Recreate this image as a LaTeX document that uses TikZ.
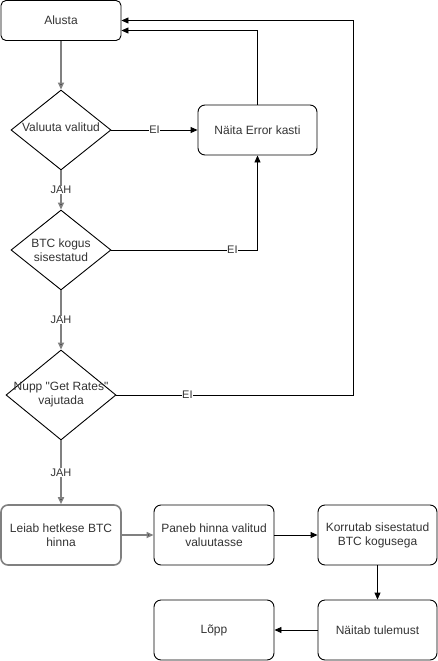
\documentclass[tikz,border=0pt]{standalone}
\usepackage{fontspec}
\setmainfont{Liberation Sans}
\font\qfont="Liberation Sans" at 12pt
\newcommand{\sq}{{\qfont\char34}}
\usetikzlibrary{shapes.geometric,arrows.meta,calc}
\definecolor{txt}{HTML}{333333}
\definecolor{gline}{HTML}{808080}
\tikzset{
  box/.style={draw=black, line width=0.9pt, rounded corners=7pt, minimum width=120pt, minimum height=60pt, align=center, text=txt, font=\fontsize{12}{14}\selectfont, inner sep=0pt},
  gbox/.style={box, draw=gline, line width=1.6pt},
  dia/.style={draw=black, line width=0.9pt, shape=diamond, inner sep=0pt},
  dtext/.style={align=center, text=txt, font=\fontsize{12}{14}\selectfont, inner sep=0pt},
  arr/.style={draw=black, line width=0.9pt, -{Triangle[length=7pt,width=6pt]}},
  garr/.style={arr, draw=gline, line width=1.6pt, -{Triangle[length=7pt,width=6pt,fill=black]}},
  lbl/.style={fill=white, text=txt, font=\fontsize{11}{12}\selectfont, inner sep=0.5pt}
}
\begin{document}
\begin{tikzpicture}[x=1pt,y=-1pt]
\useasboundingbox (0,0) rectangle (438,661);
\node[box, rounded corners=5pt, minimum height=40pt] (alusta) at (61,20.5) {Alusta};
\node[dia, minimum width=100pt, minimum height=80pt] (d1) at (61,130) {};
\node[dtext] (d1t) at (61,127) {Valuuta valitud};
\node[box, minimum width=119pt, minimum height=50pt] (err) at (257.5,130) {Näita Error kasti};
\node[dia, minimum width=100pt, minimum height=80pt] (d2) at (61,250) {};
\node[dtext] (d2t) at (61,250) {BTC kogus\\sisestatud};
\node[dia, minimum width=110pt, minimum height=90pt] (d3) at (61,395) {};
\node[dtext] (d3t) at (61,395) {Nupp \sq Get Rates\sq\\vajutada};
\node[gbox] (leiab) at (61,535) {Leiab hetkese BTC\\hinna};
\node[box] (paneb) at (214,535) {Paneb hinna valitud\\valuutasse};
\node[box, minimum width=119pt] (korr) at (377.5,535) {Korrutab sisestatud\\BTC kogusega};
\node[box, minimum width=119pt] (naitab) at (377.5,630) {Näitab tulemust};
\node[box] (lopp) at (214,630) {Lõpp};
\coordinate (c3) at (353,395);
% connectors
\draw[garr] (alusta) -- (d1);
\draw[garr] (d1) -- node[lbl]{JAH} (d2);
\draw[garr] (d2) -- node[lbl]{JAH} (d3);
\draw[garr] (d3) -- node[lbl]{JAH} (leiab);
\draw[arr] (d1) -- node[lbl]{EI} (err);
\draw[arr] (d2.east) -| node[lbl,pos=0.414]{EI} (err.south);
\draw[arr] (d3.east) -- node[lbl,pos=0.3]{EI} (c3) |- (alusta.east);
\draw[arr] (err.north) |- ([yshift=-10pt]alusta.east);
\draw[garr] (leiab) -- (paneb);
\draw[arr] (paneb) -- (korr);
\draw[arr] (korr) -- (naitab);
\draw[arr] (naitab) -- (lopp);
\end{tikzpicture}
\end{document}
